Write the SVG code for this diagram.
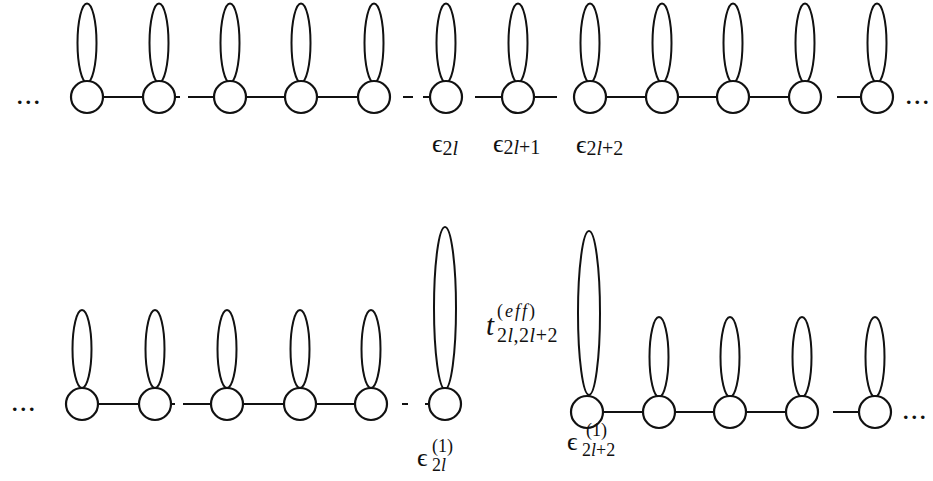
<svg xmlns="http://www.w3.org/2000/svg" width="933" height="481" viewBox="0 0 933 481">
<style>
.n circle{fill:#fff;stroke:#111;stroke-width:2.2}
.n ellipse{fill:#fff;stroke:#111;stroke-width:2}
.c line{stroke:#111;stroke-width:2}
text{fill:#111}
.e{font-size:26px}
.s{font-size:20px}
.sp{font-size:18px}
.d{font-size:22px;letter-spacing:3px;font-weight:bold}
</style>
<rect width="933" height="481" fill="#fff"/>
<g id="connectors" class="c">
<line x1="103" y1="97" x2="143" y2="97"/>
<line x1="175" y1="97" x2="180" y2="97"/>
<line x1="188" y1="97" x2="214" y2="97"/>
<line x1="246" y1="97" x2="285" y2="97"/>
<line x1="317" y1="97" x2="358" y2="97"/>
<line x1="403" y1="97" x2="413" y2="97"/>
<line x1="423" y1="97" x2="429" y2="97"/>
<line x1="475" y1="97" x2="502" y2="97"/>
<line x1="534" y1="97" x2="557" y2="97"/>
<line x1="606" y1="97" x2="646" y2="97"/>
<line x1="678" y1="97" x2="717" y2="97"/>
<line x1="749" y1="97" x2="789" y2="97"/>
<line x1="837" y1="97" x2="861" y2="97"/>
<line x1="98" y1="404" x2="139" y2="404"/>
<line x1="171" y1="404" x2="175" y2="404"/>
<line x1="183" y1="404" x2="211" y2="404"/>
<line x1="243" y1="404" x2="284" y2="404"/>
<line x1="316" y1="404" x2="355" y2="404"/>
<line x1="402" y1="404" x2="408" y2="404"/>
<line x1="425" y1="404" x2="429" y2="404"/>
<line x1="603" y1="412" x2="643" y2="412"/>
<line x1="675" y1="412" x2="714" y2="412"/>
<line x1="746" y1="412" x2="786" y2="412"/>
<line x1="833" y1="412" x2="859" y2="412"/>
</g>
<g id="t1" class="n"><ellipse cx="87" cy="43" rx="9.5" ry="39.5"/><circle cx="87" cy="97" r="16"/></g>
<g id="t2" class="n"><ellipse cx="159" cy="43" rx="9.5" ry="39.5"/><circle cx="159" cy="97" r="16"/></g>
<g id="t3" class="n"><ellipse cx="230" cy="43" rx="9.5" ry="39.5"/><circle cx="230" cy="97" r="16"/></g>
<g id="t4" class="n"><ellipse cx="301" cy="43" rx="9.5" ry="39.5"/><circle cx="301" cy="97" r="16"/></g>
<g id="t5" class="n"><ellipse cx="374" cy="43" rx="9.5" ry="39.5"/><circle cx="374" cy="97" r="16"/></g>
<g id="t6" class="n"><ellipse cx="446" cy="43" rx="9.5" ry="39.5"/><circle cx="446" cy="97" r="16"/></g>
<g id="t7" class="n"><ellipse cx="518" cy="43" rx="9.5" ry="39.5"/><circle cx="518" cy="97" r="16"/></g>
<g id="t8" class="n"><ellipse cx="590" cy="43" rx="9.5" ry="39.5"/><circle cx="590" cy="97" r="16"/></g>
<g id="t9" class="n"><ellipse cx="662" cy="43" rx="9.5" ry="39.5"/><circle cx="662" cy="97" r="16"/></g>
<g id="t10" class="n"><ellipse cx="733" cy="43" rx="9.5" ry="39.5"/><circle cx="733" cy="97" r="16"/></g>
<g id="t11" class="n"><ellipse cx="805" cy="43" rx="9.5" ry="39.5"/><circle cx="805" cy="97" r="16"/></g>
<g id="t12" class="n"><ellipse cx="877" cy="43" rx="9.5" ry="39.5"/><circle cx="877" cy="97" r="16"/></g>
<g id="b1" class="n"><ellipse cx="82" cy="349" rx="9.5" ry="39"/><circle cx="82" cy="404" r="16"/></g>
<g id="b2" class="n"><ellipse cx="155" cy="349" rx="9.5" ry="39"/><circle cx="155" cy="404" r="16"/></g>
<g id="b3" class="n"><ellipse cx="227" cy="349" rx="9.5" ry="39"/><circle cx="227" cy="404" r="16"/></g>
<g id="b4" class="n"><ellipse cx="300" cy="349" rx="9.5" ry="39"/><circle cx="300" cy="404" r="16"/></g>
<g id="b5" class="n"><ellipse cx="371" cy="349" rx="9.5" ry="39"/><circle cx="371" cy="404" r="16"/></g>
<g id="b6" class="n"><ellipse cx="445" cy="308" rx="11" ry="81"/><circle cx="445" cy="404" r="16"/></g>
<g id="b7" class="n"><ellipse cx="589" cy="313" rx="11" ry="82"/><circle cx="587" cy="412" r="16"/></g>
<g id="b8" class="n"><ellipse cx="659" cy="357" rx="9.5" ry="40"/><circle cx="659" cy="412" r="16"/></g>
<g id="b9" class="n"><ellipse cx="730" cy="357" rx="9.5" ry="40"/><circle cx="730" cy="412" r="16"/></g>
<g id="b10" class="n"><ellipse cx="802" cy="357" rx="9.5" ry="40"/><circle cx="802" cy="412" r="16"/></g>
<g id="b11" class="n"><ellipse cx="875" cy="357" rx="9.5" ry="40"/><circle cx="875" cy="412" r="16"/></g>
<g id="labels" font-family="'Liberation Serif', 'DejaVu Serif', serif">
<text class="d" x="17" y="104">...</text>
<text class="d" x="906" y="104">...</text>
<text class="d" x="12" y="411">...</text>
<text class="d" x="903" y="419">...</text>
<text x="432" y="152"><tspan class="e">ϵ</tspan><tspan class="s" dy="3">2<tspan font-style="italic">l</tspan></tspan></text>
<text x="493" y="152"><tspan class="e">ϵ</tspan><tspan class="s" dy="2">2<tspan font-style="italic">l</tspan>+1</tspan></text>
<text x="576" y="153"><tspan class="e">ϵ</tspan><tspan class="s" dy="2">2<tspan font-style="italic">l</tspan>+2</tspan></text>
<text class="e" x="417" y="466">ϵ</text>
<text class="sp" x="432" y="452">(1)</text>
<text class="sp" x="432" y="471">2<tspan font-style="italic">l</tspan></text>
<text x="486" y="335" font-size="29" font-style="italic">t</text>
<text x="497" y="317" font-size="18" letter-spacing="2">(<tspan font-style="italic">eff</tspan>)</text>
<text x="497" y="342" font-size="20" letter-spacing="0.5">2<tspan font-style="italic">l</tspan>,2<tspan font-style="italic">l</tspan>+2</text>
<text class="e" x="567" y="450">ϵ</text>
<text class="sp" x="586" y="436">(1)</text>
<text class="sp" x="582" y="456">2<tspan font-style="italic">l</tspan>+2</text>
</g>
</svg>
